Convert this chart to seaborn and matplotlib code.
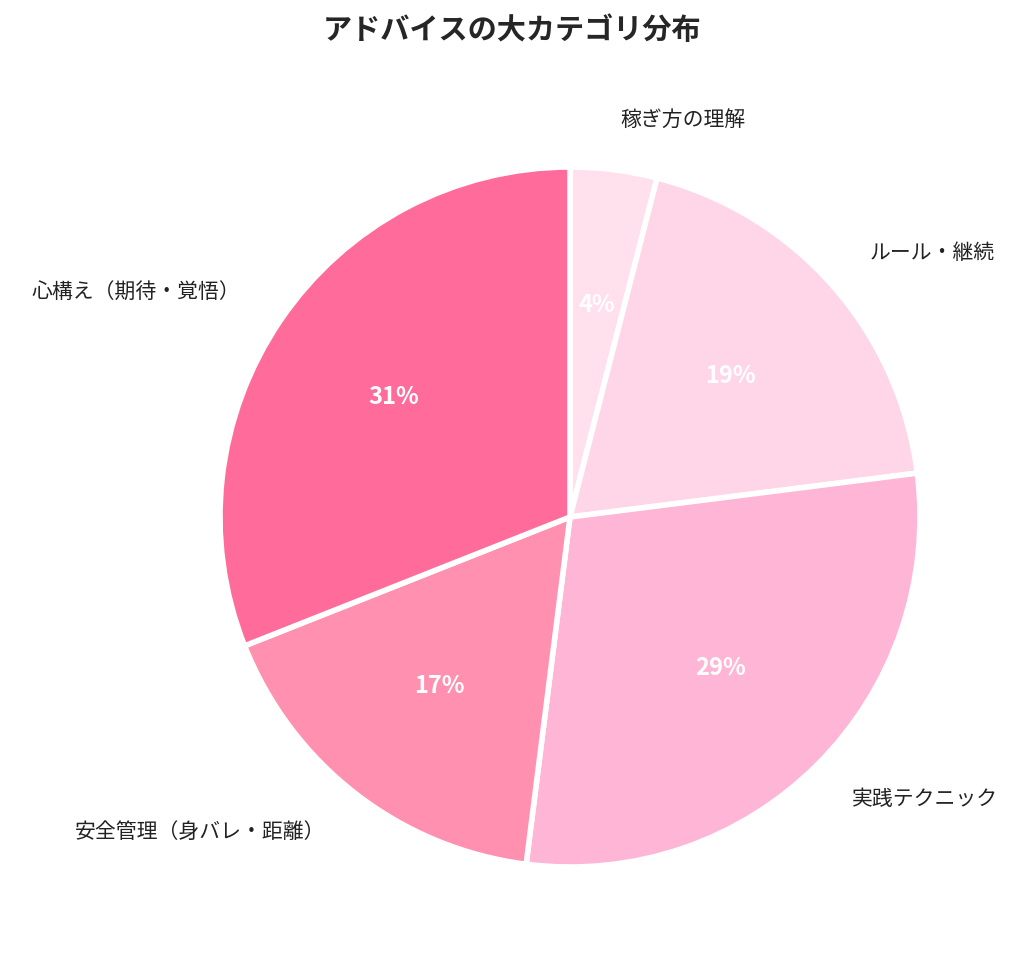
import matplotlib
matplotlib.use('Agg')
import matplotlib.pyplot as plt
import seaborn as sns

sns.set_theme(style='white')
plt.rcParams['font.family'] = ['Noto Sans CJK JP', 'DejaVu Sans']

# データ
categories = ['稼ぎ方の理解', 'ルール・継続', '実践テクニック', '安全管理（身バレ・距離）', '心構え（期待・覚悟）']
values = [4, 19, 29, 17, 31]
colors = ['#FFE0EC', '#FFD6E7', '#FFB5D6', '#FF90B0', '#FF6B9B']

fig = plt.figure(figsize=(10.24, 9.71), dpi=100)
ax = fig.add_axes([220 / 1024, (971 - 867) / 971, 700 / 1024, 700 / 971])

wedges, texts, autotexts = ax.pie(
    values, labels=categories, colors=colors, startangle=90, counterclock=False,
    autopct='%1.0f%%', pctdistance=0.61, labeldistance=1.14,
    wedgeprops=dict(edgecolor='white', linewidth=4),
    textprops=dict(fontsize=15, color='#222222'))
for t in autotexts:
    t.set_color('white')
    t.set_fontsize(17)
    t.set_fontweight('bold')
ax.set_xlim(-1, 1)
ax.set_ylim(-1, 1)
ax.set_aspect('equal')

fig.suptitle('アドバイスの大カテゴリ分布', fontsize=21, fontweight='bold', y=0.985)
fig.savefig('out.png', dpi=100)
